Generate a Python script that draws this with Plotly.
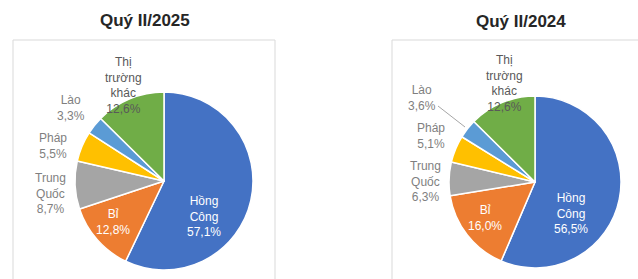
import plotly.graph_objects as go

W, H = 638, 279

categories = ["Hồng Công", "Bỉ", "Trung Quốc", "Pháp", "Lào", "Thị trường khác"]
label_lines = ["Hồng<br>Công", "Bỉ", "Trung<br>Quốc", "Pháp", "Lào", "Thị<br>trường<br>khác"]
values_2025 = [57.1, 12.8, 8.7, 5.5, 3.3, 12.6]
values_2024 = [56.5, 16.0, 6.3, 5.1, 3.6, 12.6]
titles = ["Quý II/2025", "Quý II/2024"]
colors = ["#4472C4", "#ED7D31", "#A5A5A5", "#FFC000", "#5B9BD5", "#70AD47"]
text_colors = ["#FFFFFF", "#FFFFFF", "#7F7F7F", "#7F7F7F", "#7F7F7F", "#595959"]

# label anchor positions (pixels, centre of text block) - layout only
label_pos_2025 = [(204, 216), (113, 222), (50, 193), (53, 146), (71, 108), (123, 85)]
label_pos_2024 = [(571, 213), (485, 218), (425, 181), (431, 136), (422, 98), (504, 84)]


def px(x):
    return x / W


def py(y):
    return 1 - y / H


def fmt(v):
    return f"{v:.1f}".replace(".", ",") + "%"


fig = go.Figure()

# pie domains (pixels): centre and radius
pies = [
    (values_2025, (164, 181, 89)),
    (values_2024, (535, 182, 86)),
]
for vals, (cx, cy, r) in pies:
    fig.add_trace(go.Pie(
        labels=categories,
        values=vals,
        sort=False,
        direction="clockwise",
        rotation=0,
        textinfo="none",
        hoverinfo="label+percent",
        marker=dict(colors=colors, line=dict(color="#FFFFFF", width=1.5)),
        domain=dict(x=[px(cx - r), px(cx + r)], y=[py(cy + r), py(cy - r)]),
        showlegend=False,
    ))

annotations = []
for vals, pos in [(values_2025, label_pos_2025), (values_2024, label_pos_2024)]:
    for lab, v, (x, y), col in zip(label_lines, vals, pos, text_colors):
        annotations.append(dict(
            x=px(x), y=py(y), xref="paper", yref="paper",
            text=f"{lab}<br>{fmt(v)}", showarrow=False,
            font=dict(family="Liberation Sans, Arial, sans-serif", size=12, color=col),
            align="center", xanchor="center", yanchor="middle",
        ))

for t, (x, y) in zip(titles, [(145, 20), (521, 22)]):
    annotations.append(dict(
        x=px(x), y=py(y), xref="paper", yref="paper", text=f"<b>{t}</b>",
        showarrow=False, font=dict(family="Liberation Sans, Arial, sans-serif", size=17, color="#262626"),
        xanchor="center", yanchor="middle",
    ))

shapes = [
    dict(type="rect", xref="paper", yref="paper", x0=px(13), x1=px(275), y0=py(285), y1=py(40),
         line=dict(color="#D9D9D9", width=1), fillcolor="rgba(0,0,0,0)", layer="below"),
    dict(type="rect", xref="paper", yref="paper", x0=px(392), x1=px(645), y0=py(285), y1=py(40),
         line=dict(color="#D9D9D9", width=1), fillcolor="rgba(0,0,0,0)", layer="below"),
    dict(type="line", xref="paper", yref="paper", x0=px(438), y0=py(106), x1=px(465), y1=py(127),
         line=dict(color="#A6A6A6", width=1)),
]

fig.update_layout(
    width=W, height=H,
    margin=dict(l=0, r=0, t=0, b=0),
    paper_bgcolor="#FFFFFF",
    plot_bgcolor="#FFFFFF",
    annotations=annotations,
    shapes=shapes,
)

fig.write_html(
    "out.html",
    config={"displayModeBar": False},
    post_script="document.body.style.margin='0';document.body.style.overflow='hidden';",
)
